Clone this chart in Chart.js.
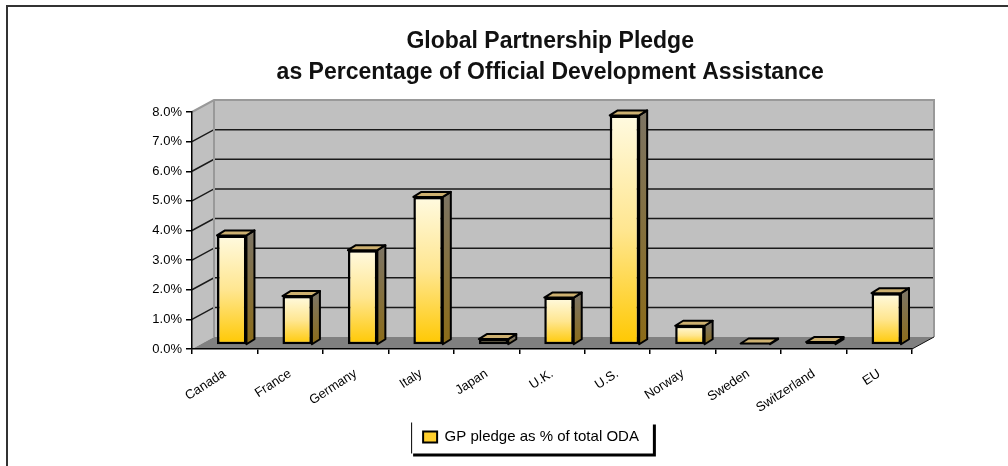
<!DOCTYPE html>
<html>
<head>
<meta charset="utf-8">
<script src="https://cdn.jsdelivr.net/npm/chart.js@4"></script>
<style>
  html, body { margin: 0; padding: 0; background: #fff; }
  #wrap { width: 1008px; height: 466px; position: relative; }
</style>
</head>
<body>
<div id="wrap"><canvas id="chart"></canvas></div>
<script>
// data
const countries = ['Canada', 'France', 'Germany', 'Italy', 'Japan', 'U.K.', 'U.S.', 'Norway', 'Sweden', 'Switzerland', 'EU'];
const pledgeShare = [3.7, 1.65, 3.2, 5.0, 0.2, 1.6, 7.75, 0.65, 0.05, 0.1, 1.75];
const seriesLabel = 'GP pledge as % of total ODA';
const titleLines = ['      Global Partnership Pledge', '      as Percentage of Official Development Assistance'];
const yMax = 8;

const FONT = "'Liberation Sans', Arial, sans-serif";
const wallDepth = { dx: 22, dy: -12 };
const barDepth = { shiftX: 7, shiftY: -4, dx: 8, dy: -5 };

const poly = (ctx, pts) => {
    ctx.beginPath();
    pts.forEach(([px, py], i) => (i ? ctx.lineTo(px, py) : ctx.moveTo(px, py)));
    ctx.closePath();
};

const barFill = (c) => {
    const chart = c.chart;
    if (!chart.chartArea || !chart.scales.y) return '#ffd84a';
    const y = chart.scales.y;
    const top = y.getPixelForValue(c.raw);
    const bottom = y.getPixelForValue(0);
    const g = chart.ctx.createLinearGradient(0, top, 0, bottom);
    g.addColorStop(0, '#fffae0');
    g.addColorStop(0.5, '#ffe690');
    g.addColorStop(1, '#ffc800');
    return g;
};

const box3d = {
    id: 'box3d',
    beforeDraw(chart) {
        const { ctx, chartArea: a, scales: { y } } = chart;
        const { dx, dy } = wallDepth;
        ctx.save();
        ctx.fillStyle = '#fff';
        ctx.fillRect(0, 0, chart.width, chart.height);
        // page frame
        ctx.strokeStyle = '#333';
        ctx.lineWidth = 2;
        ctx.beginPath();
        ctx.moveTo(7, chart.height);
        ctx.lineTo(7, 6);
        ctx.lineTo(chart.width, 6);
        ctx.stroke();
        // walls
        ctx.fillStyle = '#c0c0c0';
        ctx.fillRect(a.left + dx, a.top + dy, a.width, a.height);
        poly(ctx, [[a.left, a.top], [a.left + dx, a.top + dy], [a.left + dx, a.bottom + dy], [a.left, a.bottom]]);
        ctx.fill();
        // gridlines
        ctx.strokeStyle = '#1a1a1a';
        ctx.lineWidth = 1.5;
        y.ticks.forEach((t) => {
            if (t.value <= 0 || t.value >= yMax) return;
            const py = y.getPixelForValue(t.value);
            ctx.beginPath();
            ctx.moveTo(a.left, py);
            ctx.lineTo(a.left + dx, py + dy);
            ctx.lineTo(a.right + dx, py + dy);
            ctx.stroke();
        });
        // wall edges
        ctx.strokeStyle = '#999';
        ctx.lineWidth = 2;
        ctx.beginPath();
        ctx.moveTo(a.left, a.top);
        ctx.lineTo(a.left + dx, a.top + dy);
        ctx.lineTo(a.right + dx, a.top + dy);
        ctx.lineTo(a.right + dx, a.bottom + dy);
        ctx.moveTo(a.left + dx, a.top + dy);
        ctx.lineTo(a.left + dx, a.bottom + dy);
        ctx.stroke();
        // floor
        ctx.fillStyle = '#808080';
        poly(ctx, [[a.left, a.bottom], [a.right, a.bottom], [a.right + dx, a.bottom + dy], [a.left + dx, a.bottom + dy]]);
        ctx.fill();
        ctx.strokeStyle = '#111';
        ctx.lineWidth = 1;
        ctx.beginPath();
        ctx.moveTo(a.right, a.bottom);
        ctx.lineTo(a.right + dx, a.bottom + dy);
        ctx.stroke();
        ctx.restore();
    },
    beforeDatasetsDraw(chart) {
        chart.ctx.save();
        chart.ctx.translate(barDepth.shiftX, barDepth.shiftY);
    },
    afterDatasetsDraw(chart) {
        const ctx = chart.ctx;
        const { dx, dy } = barDepth;
        ctx.lineWidth = 2;
        ctx.lineJoin = 'round';
        ctx.strokeStyle = '#000';
        chart.getDatasetMeta(0).data.forEach((bar) => {
            const { x, y, base, width } = bar.getProps(['x', 'y', 'base', 'width'], true);
            const l = x - width / 2;
            const r = x + width / 2;
            const side = ctx.createLinearGradient(0, y, 0, base);
            side.addColorStop(0, '#7d7462');
            side.addColorStop(1, '#8c6c18');
            ctx.fillStyle = side;
            poly(ctx, [[r, y], [r + dx, y + dy], [r + dx, base + dy], [r, base]]);
            ctx.fill();
            ctx.stroke();
            ctx.fillStyle = '#cdb070';
            poly(ctx, [[l, y], [l + dx, y + dy], [r + dx, y + dy], [r, y]]);
            ctx.fill();
            ctx.stroke();
        });
        ctx.restore();
    },
    afterDraw(chart) {
        const hb = chart.legend && chart.legend.legendHitBoxes[0];
        if (!hb) return;
        const ctx = chart.ctx;
        const L = hb.left - 12;
        const T = hb.top - 7;
        const R = hb.left + hb.width + 14;
        const B = hb.top + hb.height + 9;
        ctx.save();
        ctx.strokeStyle = '#000';
        ctx.lineWidth = 1;
        ctx.beginPath();
        ctx.moveTo(L + 0.5, T);
        ctx.lineTo(L + 0.5, B);
        ctx.stroke();
        ctx.lineWidth = 3;
        ctx.beginPath();
        ctx.moveTo(L + 2, B + 1.5);
        ctx.lineTo(R + 3, B + 1.5);
        ctx.moveTo(R + 1.5, T + 2);
        ctx.lineTo(R + 1.5, B + 3);
        ctx.stroke();
        ctx.restore();
    }
};

new Chart(document.getElementById('chart'), {
    type: 'bar',
    data: {
        labels: countries,
        datasets: [{
            label: seriesLabel,
            data: pledgeShare,
            backgroundColor: barFill,
            borderColor: '#000',
            borderWidth: 2.5,
            borderSkipped: false,
            barPercentage: 0.9,
            categoryPercentage: 0.5,
            clip: false
        }]
    },
    options: {
        responsive: true,
        maintainAspectRatio: false,
        animation: false,
        layout: { padding: { left: 150, right: 96, top: 10, bottom: 11.5 } },
        scales: {
            x: {
                afterFit: (scale) => { scale.height = 70.5; },
                border: { color: '#000', width: 1.5 },
                grid: { offset: true, drawOnChartArea: false, tickLength: 5, color: '#000', lineWidth: 1.5 },
                ticks: {
                    color: '#000',
                    font: { family: FONT, size: 13 },
                    minRotation: 33,
                    maxRotation: 33,
                    padding: 12,
                    autoSkip: false
                }
            },
            y: {
                min: 0,
                max: yMax,
                afterFit: (scale) => { scale.width = 42; },
                border: { color: '#000', width: 1.5 },
                grid: { drawOnChartArea: false, tickLength: 6, color: '#000', lineWidth: 1.5 },
                ticks: {
                    stepSize: 1,
                    color: '#000',
                    padding: 4,
                    font: { family: FONT, size: 13 },
                    callback: (v) => v.toFixed(1) + '%'
                }
            }
        },
        plugins: {
            title: {
                display: true,
                text: titleLines,
                color: '#111',
                font: { family: FONT, size: 23, weight: 'bold', lineHeight: 1.35 },
                padding: { top: 16.5, bottom: 23.4 }
            },
            legend: {
                position: 'bottom',
                labels: {
                    color: '#000',
                    font: { family: FONT, size: 15 },
                    boxWidth: 14,
                    boxHeight: 11,
                    padding: 10,
                    generateLabels: () => [{
                        text: seriesLabel,
                        fillStyle: '#ffcf2e',
                        strokeStyle: '#000',
                        lineWidth: 2,
                        hidden: false,
                        datasetIndex: 0
                    }]
                }
            },
            tooltip: { enabled: false }
        }
    },
    plugins: [box3d]
});
</script>
</body>
</html>
